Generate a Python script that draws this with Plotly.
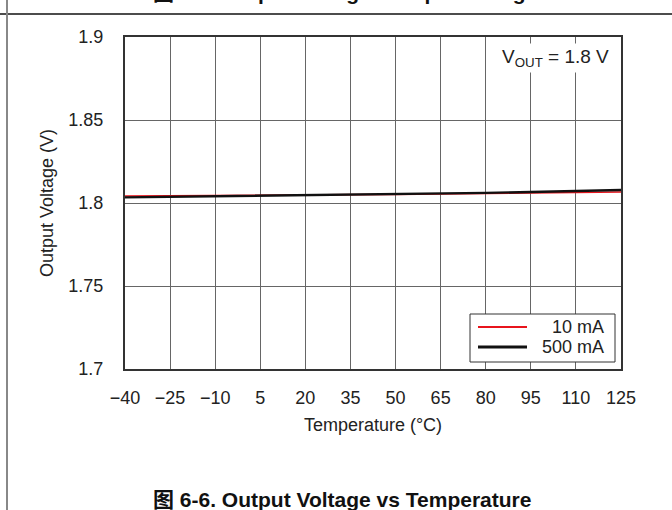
import plotly.graph_objects as go

# ---- data ----
temperature = [-40, -25, -10, 5, 20, 35, 50, 65, 80, 95, 110, 125]
vout_10mA = [1.8042, 1.8043, 1.8045, 1.8047, 1.8048, 1.8050, 1.8052, 1.8054, 1.8057, 1.8060, 1.8063, 1.8066]
vout_500mA = [1.8034, 1.8037, 1.8040, 1.8043, 1.8046, 1.8050, 1.8053, 1.8057, 1.8061, 1.8066, 1.8072, 1.8078]
x_ticks = [-40, -25, -10, 5, 20, 35, 50, 65, 80, 95, 110, 125]
x_tick_labels = ["\u221240", "\u221225", "\u221210", "5", "20", "35", "50", "65", "80", "95", "110", "125"]
y_ticks = [1.7, 1.75, 1.8, 1.85, 1.9]
y_tick_labels = ["1.7", "1.75", "1.8", "1.85", "1.9"]
series_names = ["10 mA", "500 mA"]
series_colors = ["#e8141c", "#111111"]
series_widths = [1.6, 2.4]
caption = "图 6-6. Output Voltage vs Temperature"
top_caption = "图 6-5. Output Voltage vs Input Voltage"

W, H = 672, 510
L, R, T, B = 125, 621, 37, 369  # plot area in pixels


def px(x):
    return (x - L) / (R - L)


def py(y):
    return (B - y) / (B - T)


FONT = "Liberation Sans, Arial, Noto Sans CJK SC, sans-serif"

fig = go.Figure()
for name, ys, c, w in zip(series_names, [vout_10mA, vout_500mA], series_colors, series_widths):
    fig.add_trace(go.Scatter(x=temperature, y=ys, mode="lines", name=name,
                             line=dict(color=c, width=w), showlegend=False))

# manual legend (box, sample lines, right-aligned labels)
leg_shapes = [
    dict(type="rect", xref="paper", yref="paper", x0=px(470), x1=px(615), y0=py(362), y1=py(314),
         line=dict(color="#333", width=1), fillcolor="white", layer="above"),
]
leg_annots = []
for i, (name, c, w) in enumerate(zip(series_names, series_colors, series_widths)):
    yy = 327 + 20 * i
    leg_shapes.append(dict(type="line", xref="paper", yref="paper", x0=px(478), x1=px(527),
                           y0=py(yy), y1=py(yy), line=dict(color=c, width=w + 0.4), layer="above"))
    leg_annots.append(dict(text=name, xref="paper", yref="paper", x=px(606), y=py(yy),
                           xanchor="right", yanchor="middle", showarrow=False,
                           font=dict(size=18, color="#222")))

fig.update_layout(
    width=W, height=H,
    margin=dict(l=L, r=W - R, t=T, b=H - B, pad=0),
    paper_bgcolor="white", plot_bgcolor="white",
    font=dict(family=FONT, size=18, color="#222"),
    showlegend=False,
    xaxis=dict(range=[-40, 125], tickvals=x_ticks, ticktext=x_tick_labels,
               showgrid=True, gridcolor="#666", gridwidth=1,
               showline=True, linecolor="#333", linewidth=2, mirror=True,
               zeroline=False, ticks="", ticklabelstandoff=11,
               title=dict(text="Temperature (°C)", font=dict(size=18), standoff=12)),
    yaxis=dict(range=[1.7, 1.9], tickvals=y_ticks, ticktext=y_tick_labels,
               showgrid=True, gridcolor="#666", gridwidth=1,
               showline=True, linecolor="#333", linewidth=2, mirror=True,
               zeroline=False, ticks="", ticklabelstandoff=16,
               title=dict(text="Output Voltage (V)", font=dict(size=18), standoff=10)),
    annotations=[
        dict(text="V<sub>OUT</sub> = 1.8 V", xref="paper", yref="paper",
             x=px(612), y=py(58), xanchor="right", yanchor="middle",
             showarrow=False, font=dict(size=19, color="#222"),
             bgcolor="white", borderpad=2),
        dict(text="<b>" + caption + "</b>", xref="paper", yref="paper",
             x=px(151), y=py(499), xanchor="left", yanchor="middle",
             showarrow=False, font=dict(size=21, color="#111")),
        dict(text="<b>" + top_caption + "</b>", xref="paper", yref="paper",
             x=px(151), y=py(6), xanchor="left", yanchor="bottom",
             showarrow=False, font=dict(size=21, color="#111")),
    ] + leg_annots,
    shapes=[
        dict(type="line", xref="paper", yref="paper", x0=px(0), x1=px(W), y0=py(14), y1=py(14),
             line=dict(color="#111", width=1.5)),
        dict(type="line", xref="paper", yref="paper", x0=px(7), x1=px(7), y0=py(H), y1=py(0),
             line=dict(color="#888", width=2)),
    ] + leg_shapes,
)

fig.write_html("out.html", config={"displayModeBar": False},
               post_script="document.body.style.margin='0';document.body.style.overflow='hidden';")
